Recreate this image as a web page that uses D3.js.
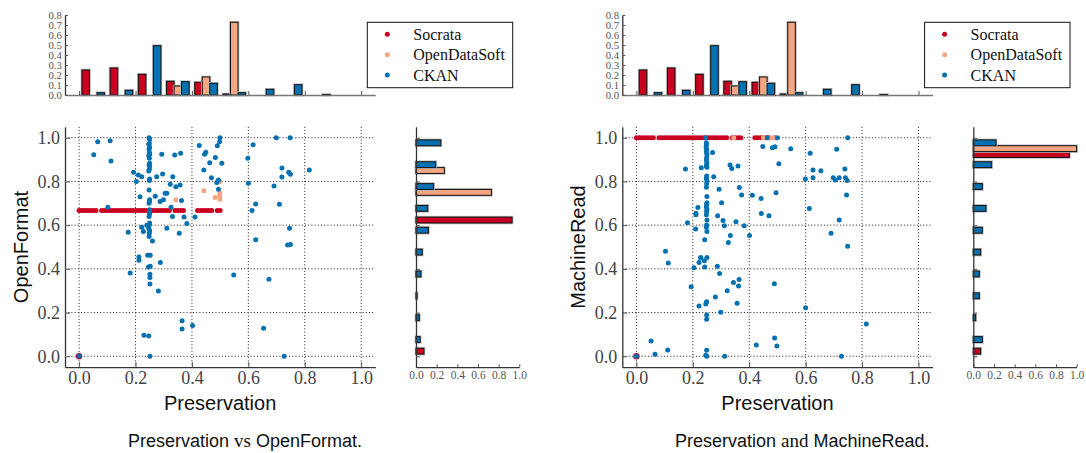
<!DOCTYPE html>
<html><head><meta charset="utf-8">
<script src="https://cdn.jsdelivr.net/npm/d3@7"></script>
<style>
html,body{margin:0;padding:0;background:#fff;}
svg{display:block;}
</style></head>
<body><svg id="c" width="1086" height="453"></svg>
<script>
// ---------------- DATA ----------------
const seriesNames = ["Socrata", "OpenDataSoft", "CKAN"];
const seriesColors = ["#ca0020", "#f4a582", "#0571b0"];
const binStarts = [0.0, 0.1, 0.2, 0.3, 0.4, 0.5, 0.6, 0.7, 0.8, 0.9];
const axisTicks = [0.0, 0.2, 0.4, 0.6, 0.8, 1.0];
const topHistTicks = [0.0, 0.1, 0.2, 0.3, 0.4, 0.5, 0.6, 0.7, 0.8];

// Preservation histogram (top), per bin
const presSocrata = [0.25, 0.27, 0.207, 0.137, 0.127, 0.01, 0, 0, 0, 0];
const presODS     = [0, 0, 0, 0.09, 0.18, 0.727, 0, 0, 0, 0];
const presCKAN    = [0.023, 0.047, 0.493, 0.133, 0.117, 0.023, 0.057, 0.103, 0.005, 0];

// OpenFormat histogram (side, left panel)
const openSocrata = [0.077, 0, 0, 0, 0, 0, 0.93, 0, 0, 0];
const openODS     = [0, 0, 0, 0, 0, 0, 0, 0.73, 0.274, 0];
const openCKAN    = [0.04, 0.032, 0.01, 0.048, 0.06, 0.12, 0.113, 0.17, 0.19, 0.24];

// MachineRead histogram (side, right panel)
const machSocrata = [0.071, 0, 0, 0, 0, 0, 0, 0, 0, 0.93];
const machODS     = [0, 0, 0, 0, 0, 0, 0, 0, 0, 1.0];
const machCKAN    = [0.087, 0.023, 0.058, 0.058, 0.071, 0.087, 0.123, 0.087, 0.177, 0.22];

// Scatter: Preservation vs OpenFormat
const socrataOpenPts = [[0,0],[0.0,0.667],[0.01,0.667],[0.02,0.667],[0.03,0.667],[0.04,0.667],[0.05,0.667],[0.06,0.667],[0.08,0.667],[0.09,0.667],[0.1,0.667],[0.11,0.667],[0.12,0.667],[0.13,0.667],[0.14,0.667],[0.15,0.667],[0.16,0.667],[0.17,0.667],[0.18,0.667],[0.19,0.667],[0.2,0.667],[0.21,0.667],[0.22,0.667],[0.23,0.667],[0.24,0.667],[0.25,0.667],[0.26,0.667],[0.27,0.667],[0.28,0.667],[0.29,0.667],[0.3,0.667],[0.31,0.667],[0.32,0.667],[0.34,0.667],[0.35,0.667],[0.36,0.667],[0.37,0.667],[0.42,0.667],[0.43,0.667],[0.44,0.667],[0.45,0.667],[0.46,0.667],[0.47,0.667],[0.49,0.667],[0.5,0.667]];
const odsOpenPts = [[0.343,0.716],[0.442,0.757],[0.482,0.726],[0.499,0.746],[0.499,0.719],[0.499,0.8],[0.498,0.735]];
const ckanOpenPts = [[0.066,0.982],[0.11,0.986],[0.052,0.922],[0.113,0.894],[0.102,0.682],[0.174,0.567],[0.193,0.842],[0.203,0.8],[0.21,0.83],[0.222,0.822],[0.216,0.73],[0.222,0.59],[0.228,0.571],[0.24,0.6],
[0.248,1.0],[0.25,0.992],[0.249,0.974],[0.247,0.97],[0.25,0.956],[0.248,0.948],[0.249,0.933],[0.25,0.924],[0.247,0.918],[0.249,0.906],[0.25,0.883],[0.248,0.875],[0.25,0.868],[0.249,0.856],[0.247,0.848],[0.25,0.811],[0.249,0.804],[0.248,0.761],[0.25,0.716],[0.249,0.708],[0.248,0.7],[0.25,0.67],[0.249,0.658],[0.25,0.652],[0.248,0.64],[0.25,0.61],[0.249,0.602],[0.247,0.586],[0.25,0.576],[0.249,0.563],[0.248,0.548],
[0.26,0.528],[0.27,0.732],[0.275,0.822],[0.287,0.708],[0.293,0.924],[0.296,0.834],[0.299,0.716],[0.305,0.746],[0.311,0.746],[0.311,0.586],[0.323,0.787],[0.326,0.682],[0.332,0.822],[0.331,0.64],[0.339,0.921],[0.343,0.776],[0.355,0.563],[0.358,0.784],[0.36,0.929],[0.363,0.713],[0.372,0.637],[0.382,0.608],[0.411,0.637],[0.426,0.965],[0.442,0.852],[0.445,0.924],[0.449,0.933],[0.463,0.886],[0.469,0.817],[0.483,0.909],[0.49,0.963],[0.488,0.795],[0.494,0.807],[0.498,0.982],[0.499,1.0],[0.494,0.764],[0.506,0.883],[0.598,0.906],[0.6,0.792],[0.617,0.968],[0.613,0.667],[0.626,0.697],[0.626,0.533],[0.691,0.779],[0.699,1.0],[0.71,0.696],[0.719,0.862],[0.719,0.82],[0.743,0.842],[0.749,0.833],[0.748,1.0],[0.746,0.586],[0.739,0.509],[0.749,0.512],[0.816,0.852],
[0.181,0.381],[0.212,0.454],[0.212,0.439],[0.243,0.462],[0.252,0.462],[0.246,0.409],[0.252,0.412],[0.251,0.375],[0.251,0.36],[0.251,0.331],[0.288,0.429],[0.281,0.299],[0.365,0.163],[0.365,0.125],[0.402,0.141],[0.23,0.096],[0.247,0.093],[0.251,0.0],[0.548,0.372],[0.673,0.353],[0.654,0.128],[0.727,0.0],[0.0,0.0]];

// Scatter: Preservation vs MachineRead
const socrataMachPts = [[0,0],[0.0,1],[0.01,1],[0.02,1],[0.03,1],[0.04,1],[0.05,1],[0.06,1],[0.08,1],[0.09,1],[0.1,1],[0.11,1],[0.12,1],[0.13,1],[0.14,1],[0.15,1],[0.16,1],[0.17,1],[0.18,1],[0.19,1],[0.2,1],[0.21,1],[0.22,1],[0.23,1],[0.24,1],[0.25,1],[0.26,1],[0.27,1],[0.28,1],[0.29,1],[0.3,1],[0.31,1],[0.32,1],[0.34,1],[0.35,1],[0.36,1],[0.37,1],[0.42,1],[0.43,1],[0.44,1],[0.45,1],[0.46,1],[0.47,1],[0.49,1]];
const odsMachPts = [[0.345,1],[0.45,1],[0.475,1],[0.488,1]];
const ckanMachPts = [[0.246,1.0],[0.464,1.0],[0.5,1.0],[0.749,1.0],
[0.174,0.857],[0.103,0.481],[0.181,0.611],[0.21,0.582],[0.211,0.647],[0.211,0.655],[0.218,0.681],[0.228,0.452],[0.23,0.863],[0.242,0.533],
[0.248,0.977],[0.249,0.97],[0.247,0.959],[0.249,0.947],[0.248,0.936],[0.25,0.924],[0.249,0.909],[0.248,0.898],[0.25,0.886],[0.249,0.878],[0.248,0.871],[0.25,0.865],[0.249,0.825],[0.248,0.814],[0.25,0.802],[0.249,0.789],[0.248,0.773],[0.25,0.703],[0.249,0.696],[0.248,0.684],[0.25,0.672],[0.249,0.662],[0.248,0.647],[0.25,0.624],[0.249,0.601],[0.248,0.59],[0.25,0.571],[0.25,0.452],
[0.25,0.731],[0.27,0.932],[0.274,0.821],[0.288,0.643],[0.293,0.764],[0.302,0.703],[0.307,0.621],[0.312,0.597],[0.326,0.521],[0.332,0.875],[0.333,0.553],[0.338,0.859],[0.353,0.615],[0.36,0.871],[0.365,0.772],[0.373,0.738],[0.382,0.597],[0.401,0.553],[0.411,0.737],[0.442,0.722],[0.443,0.653],[0.448,0.96],[0.47,0.643],[0.482,0.954],[0.491,0.959],[0.495,0.748],[0.505,0.881],[0.547,0.95],[0.599,0.811],[0.613,0.676],[0.616,0.929],[0.626,0.852],[0.626,0.817],[0.654,0.849],[0.69,0.563],[0.698,0.817],[0.705,0.807],[0.71,0.947],[0.719,0.817],[0.719,0.624],[0.739,0.857],[0.741,0.817],[0.747,0.804],[0.745,0.738],[0.749,0.503],
[0.113,0.427],[0.194,0.318],[0.204,0.405],[0.222,0.429],[0.228,0.45],[0.241,0.437],[0.242,0.409],[0.222,0.23],[0.246,0.239],[0.249,0.249],[0.249,0.189],[0.249,0.169],[0.28,0.271],[0.287,0.412],[0.295,0.379],[0.299,0.202],[0.322,0.3],[0.344,0.338],[0.364,0.351],[0.362,0.321],[0.357,0.243],[0.489,0.332],[0.6,0.222],[0.815,0.148],[0.052,0.07],[0.066,0.009],[0.111,0.029],[0.249,0.027],[0.246,0.005],[0.249,0.0],[0.313,0.0],[0.425,0.052],[0.49,0.084],[0.498,0.047],[0.727,0.0],[0.0,0.0]];

const panels = [
  {dx: 0, xLabel: "Preservation", yLabel: "OpenFormat", caption: ["Preservation ", "vs", " OpenFormat."], capX: 128,
   pts: [socrataOpenPts, odsOpenPts, ckanOpenPts], side: [openSocrata, openODS, openCKAN]},
  {dx: 557.3, xLabel: "Preservation", yLabel: "MachineRead", caption: ["Preservation ", "and", " MachineRead."], capX: 117.7,
   pts: [socrataMachPts, odsMachPts, ckanMachPts], side: [machSocrata, machODS, machCKAN]}
];
const topHist = [presSocrata, presODS, presCKAN];

// ---------------- DRAW ----------------
const svg = d3.select("#c");
svg.append("rect").attr("width", 1086).attr("height", 453).attr("fill", "#fff");
const serif = "'Liberation Serif', 'DejaVu Serif', serif";
const sans = "'Liberation Sans', Arial, sans-serif";

const x = d3.scaleLinear().domain([-0.05, 1.05]).range([65, 375.3]);
const y = d3.scaleLinear().domain([-0.05, 1.05]).range([367.2, 126.8]);
const yTop = d3.scaleLinear().domain([0, 0.8]).range([95, 15]);
const xSide = d3.scaleLinear().domain([0, 1]).range([416, 519.3]);
const barW = 0.08 / 3, barOff = 0.01;

function styleAxis(g, fontSize, family, color) {
  g.select(".domain").attr("stroke", "#333").attr("stroke-width", 1.3);
  g.selectAll(".tick line").attr("stroke", "#555").attr("stroke-width", 1);
  g.selectAll(".tick text").attr("font-family", family).attr("font-size", fontSize).attr("fill", color);
}

function drawBar(g, rx, ry, rw, rh, color) {
  g.append("rect").attr("x", rx).attr("y", ry).attr("width", rw).attr("height", Math.max(rh, 0))
    .attr("fill", "none").attr("stroke", "#b5b5b5").attr("stroke-width", 2.6);
  g.append("rect").attr("x", rx).attr("y", ry).attr("width", rw).attr("height", Math.max(rh, 0))
    .attr("fill", color).attr("stroke", "#111").attr("stroke-width", 1);
}

panels.forEach(p => {
  const g = svg.append("g").attr("transform", `translate(${p.dx},0)`);

  // ---- scatter grid ----
  const grid = g.append("g");
  axisTicks.forEach(t => {
    grid.append("line").attr("x1", x(t)).attr("x2", x(t)).attr("y1", y.range()[1]).attr("y2", y.range()[0])
      .attr("stroke", "#000").attr("stroke-width", 0.9).attr("stroke-dasharray", "1,2.2");
    grid.append("line").attr("y1", y(t)).attr("y2", y(t)).attr("x1", x.range()[0]).attr("x2", x.range()[1])
      .attr("stroke", "#000").attr("stroke-width", 0.9).attr("stroke-dasharray", "1,2.2");
  });

  // ---- scatter points ----
  p.pts.forEach((pts, si) => {
    g.append("g").selectAll("circle").data(pts).join("circle")
      .attr("cx", d => x(d[0])).attr("cy", d => y(d[1]))
      .attr("r", (d) => (si === 0 && d[0] === 0 && d[1] === 0) ? 3.2 : 2.5)
      .attr("fill", seriesColors[si]);
  });

  // ---- scatter axes ----
  const ax = g.append("g").attr("transform", `translate(0,${y.range()[0]})`)
    .call(d3.axisBottom(x).tickValues(axisTicks).tickFormat(d3.format(".1f")).tickSize(-5).tickSizeOuter(0).tickPadding(4));
  styleAxis(ax, 18, serif, "#444");
  const ay = g.append("g").attr("transform", `translate(${x.range()[0]},0)`)
    .call(d3.axisLeft(y).tickValues(axisTicks).tickFormat(d3.format(".1f")).tickSize(-5).tickSizeOuter(0).tickPadding(5));
  styleAxis(ay, 18, serif, "#444");

  g.append("text").attr("x", (x.range()[0] + x.range()[1]) / 2).attr("y", 410)
    .attr("text-anchor", "middle").attr("font-family", sans).attr("font-size", 20).attr("fill", "#111").text(p.xLabel);
  g.append("text").attr("transform", `translate(28,${(y.range()[0] + y.range()[1]) / 2}) rotate(-90)`)
    .attr("text-anchor", "middle").attr("font-family", sans).attr("font-size", 20).attr("fill", "#111").text(p.yLabel);

  // ---- top histogram ----
  const th = g.append("g");
  topHist.forEach((vals, si) => {
    vals.forEach((v, bi) => {
      const x0 = x(binStarts[bi] + barOff + si * barW), x1 = x(binStarts[bi] + barOff + (si + 1) * barW);
      drawBar(th, x0, yTop(v), x1 - x0, yTop(0) - yTop(v), seriesColors[si]);
    });
  });
  const tax = g.append("g").attr("transform", `translate(0,${yTop(0)})`)
    .call(d3.axisBottom(x).tickValues(axisTicks).tickFormat("").tickSize(-4).tickSizeOuter(0));
  styleAxis(tax, 10, serif, "#555");
  tax.select(".domain").attr("stroke", "#777").attr("stroke-width", 1.6);
  const tay = g.append("g").attr("transform", `translate(${x.range()[0]},0)`)
    .call(d3.axisLeft(yTop).tickValues(topHistTicks).tickFormat(d3.format(".1f")).tickSize(-3).tickSizeOuter(0).tickPadding(3));
  styleAxis(tay, 8.6, serif, "#555");
  tay.selectAll(".tick text").attr("transform", "scale(1.25,1.15)").attr("x", -3.2 / 1.25).attr("dy", "0.32em");

  // ---- side histogram ----
  const sh = g.append("g");
  p.side.forEach((vals, si) => {
    vals.forEach((v, bi) => {
      const yb = y(binStarts[bi] + barOff + si * barW), yt = y(binStarts[bi] + barOff + (si + 1) * barW);
      drawBar(sh, xSide(0), yt, xSide(v) - xSide(0), yb - yt, seriesColors[si]);
    });
  });
  const sax = g.append("g").attr("transform", `translate(0,${y.range()[0]})`)
    .call(d3.axisBottom(xSide).tickValues(axisTicks).tickFormat(d3.format(".1f")).tickSize(-3).tickSizeOuter(0).tickPadding(4));
  styleAxis(sax, 11.5, serif, "#555");
  const say = g.append("g").attr("transform", `translate(${xSide(0)},0)`)
    .call(d3.axisLeft(y).tickValues(axisTicks).tickFormat("").tickSize(-4).tickSizeOuter(0));
  styleAxis(say, 10, serif, "#555");

  // ---- legend ----
  const lg = g.append("g");
  lg.append("rect").attr("x", 367.3).attr("y", 22.3).attr("width", 145.4).attr("height", 65.4)
    .attr("fill", "#fff").attr("stroke", "#111").attr("stroke-width", 1);
  seriesNames.forEach((n, i) => {
    const ly = 34.3 + i * 20.4;
    lg.append("circle").attr("cx", 387.3).attr("cy", ly).attr("r", 2.5).attr("fill", seriesColors[i]);
    lg.append("text").attr("x", 413.3).attr("y", ly).attr("dy", "0.35em").attr("font-family", serif)
      .attr("font-size", 16).attr("fill", "#111").text(n);
  });

  // ---- caption ----
  const cap = g.append("text").attr("x", p.capX).attr("y", 447).attr("font-family", sans).attr("font-size", 18).attr("fill", "#111");
  cap.append("tspan").text(p.caption[0]);
  cap.append("tspan").attr("font-family", serif).attr("font-size", 19).text(p.caption[1]);
  cap.append("tspan").text(p.caption[2]);
});
</script>
</body></html>
